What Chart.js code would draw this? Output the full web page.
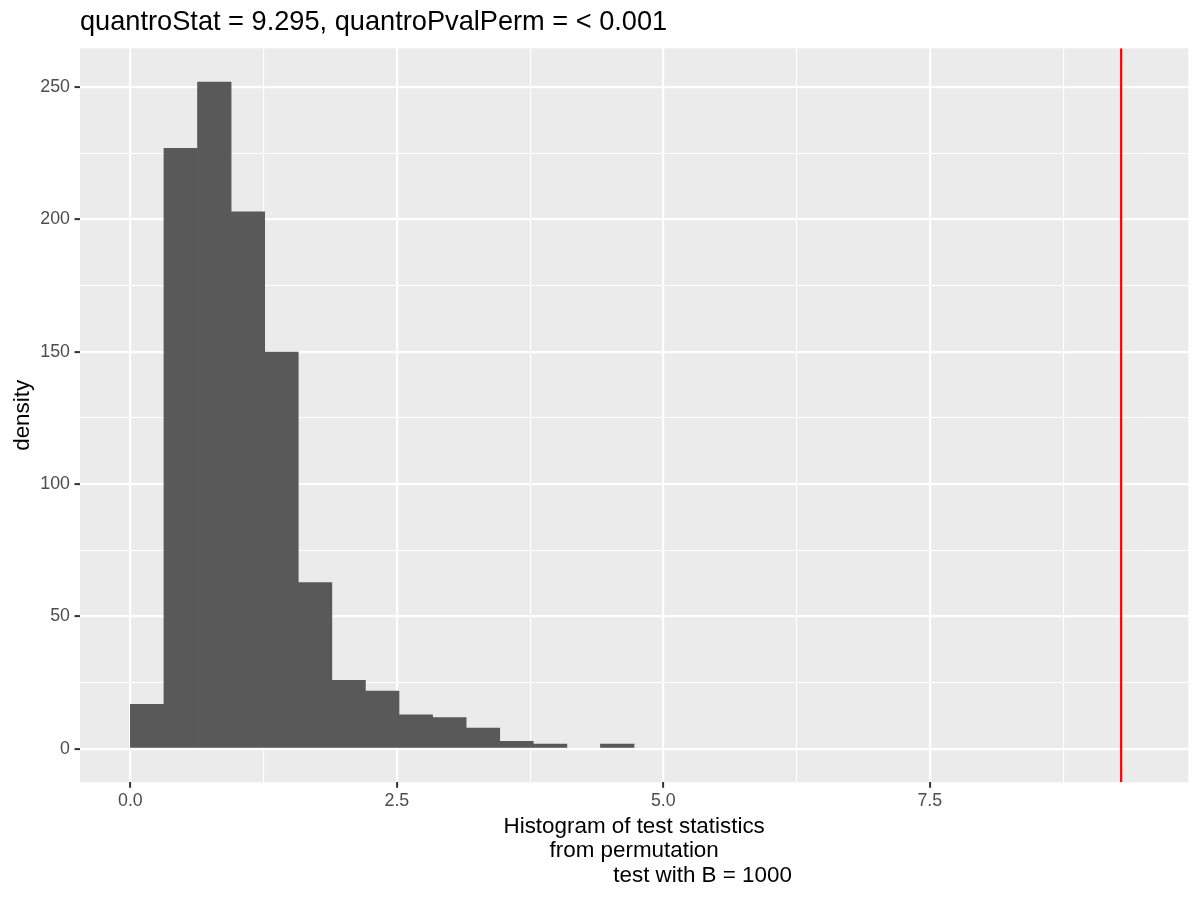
<!DOCTYPE html>
<html>
<head>
<meta charset="utf-8">
<script src="https://cdn.jsdelivr.net/npm/chart.js@4.4.1/dist/chart.umd.min.js"></script>
<style>
  html, body { margin: 0; padding: 0; background: #ffffff; }
  canvas { display: block; }
</style>
</head>
<body>
<canvas id="chart" width="1200" height="900"></canvas>
<script>
// ---- data ----
const binCenters = [0.1575, 0.4725, 0.7875, 1.1025, 1.4175, 1.7325, 2.0475, 2.3625,
                    2.6775, 2.9925, 3.3075, 3.6225, 3.9375, 4.2525, 4.5675];
const counts = [17, 227, 252, 203, 150, 63, 26, 22, 13, 12, 8, 3, 2, 0, 2];
const quantroStat = 9.295;

const xLimits = [-0.4726, 9.925];
const yLimits = [-12.6, 264.6];

const xMajorTicks = [0, 2.5, 5, 7.5];
const xTickLabels = ['0.0', '2.5', '5.0', '7.5'];
const xMinorTicks = [1.25, 3.75, 6.25, 8.75];

const yMajorTicks = [0, 50, 100, 150, 200, 250];
const yTickLabels = ['0', '50', '100', '150', '200', '250'];
const yMinorTicks = [25, 75, 125, 175, 225];

const titleText = 'quantroStat = 9.295, quantroPvalPerm = < 0.001';
const xTitleLines = [
  'Histogram of test statistics',
  'from permutation',
  '                      test with B = 1000'
];
const yTitleText = 'density';

// ---- styling ----
const FONT = "'Liberation Sans', Arial, Helvetica, sans-serif";

const panelBackground = {
  id: 'panelBackground',
  beforeDraw(chart) {
    const { ctx, chartArea: a } = chart;
    ctx.save();
    ctx.fillStyle = '#FFFFFF';
    ctx.fillRect(0, 0, chart.width, chart.height);
    ctx.fillStyle = '#EBEBEB';
    ctx.fillRect(a.left, a.top, a.right - a.left, a.bottom - a.top);
    ctx.restore();
  }
};

function isMajor(list, c) {
  return !!(c && c.tick && list.indexOf(c.tick.value) >= 0);
}
function allTicks(a, b) {
  return a.concat(b).sort((p, q) => p - q).map(v => ({ value: v }));
}

new Chart(document.getElementById('chart').getContext('2d'), {
  type: 'bar',
  data: {
    datasets: [
      {
        type: 'bar',
        data: binCenters.map((x, i) => ({ x: x, y: counts[i] })),
        backgroundColor: '#595959',
        borderWidth: 0,
        barPercentage: 1.02,
        categoryPercentage: 1.0,
        order: 2
      },
      {
        type: 'line',
        data: [{ x: quantroStat, y: yLimits[0] }, { x: quantroStat, y: yLimits[1] }],
        borderColor: '#FF0000',
        borderWidth: 2.2,
        pointRadius: 0,
        fill: false,
        order: 1
      }
    ]
  },
  options: {
    responsive: false,
    animation: false,
    devicePixelRatio: 1,
    events: [],
    layout: { padding: { left: 9, right: 11.7, top: 0, bottom: 0 } },
    plugins: {
      legend: { display: false },
      tooltip: { enabled: false },
      title: {
        display: true,
        text: titleText,
        align: 'start',
        fullSize: false,
        color: '#000000',
        font: { family: FONT, size: 27.2, weight: 'normal', lineHeight: 1.2 },
        padding: { top: 5.96, bottom: 9.74 }
      }
    },
    scales: {
      x: {
        type: 'linear',
        min: xLimits[0],
        max: xLimits[1],
        offset: false,
        afterBuildTicks: (axis) => { axis.ticks = allTicks(xMajorTicks, xMinorTicks); },
        afterFit: (scale) => { scale.height = 117.7; },
        border: { display: false },
        grid: {
          offset: false,
          color: '#FFFFFF',
          lineWidth: (c) => isMajor(xMajorTicks, c) ? 2.2 : 1.1,
          drawTicks: true,
          tickLength: 5.5,
          tickWidth: 2,
          tickColor: (c) => isMajor(xMajorTicks, c) ? '#333333' : 'rgba(0,0,0,0)'
        },
        ticks: {
          autoSkip: false,
          maxRotation: 0,
          minRotation: 0,
          padding: 2.8,
          color: '#4D4D4D',
          font: { family: FONT, size: 17.8, lineHeight: 1.2 },
          callback: (v) => {
            const i = xMajorTicks.indexOf(v);
            return i >= 0 ? xTickLabels[i] : '';
          }
        },
        title: {
          display: true,
          text: xTitleLines,
          color: '#000000',
          font: { family: FONT, size: 22.4, lineHeight: 1.1 },
          padding: { top: 0, bottom: 12 }
        }
      },
      y: {
        type: 'linear',
        min: yLimits[0],
        max: yLimits[1],
        afterBuildTicks: (axis) => { axis.ticks = allTicks(yMajorTicks, yMinorTicks); },
        afterFit: (scale) => { scale.width = 71; },
        border: { display: false },
        grid: {
          color: '#FFFFFF',
          lineWidth: (c) => isMajor(yMajorTicks, c) ? 2.2 : 1.1,
          drawTicks: true,
          tickLength: 5.5,
          tickWidth: 2,
          tickColor: (c) => isMajor(yMajorTicks, c) ? '#333333' : 'rgba(0,0,0,0)'
        },
        ticks: {
          autoSkip: false,
          padding: 4.5,
          color: '#4D4D4D',
          font: { family: FONT, size: 17.8, lineHeight: 1.2 },
          callback: (v) => {
            const i = yMajorTicks.indexOf(v);
            return i >= 0 ? yTickLabels[i] : '';
          }
        },
        title: {
          display: true,
          text: yTitleText,
          color: '#000000',
          font: { family: FONT, size: 22.4, lineHeight: 1.2 },
          padding: { top: 0, bottom: 0 }
        }
      }
    }
  },
  plugins: [panelBackground]
});
</script>
</body>
</html>
